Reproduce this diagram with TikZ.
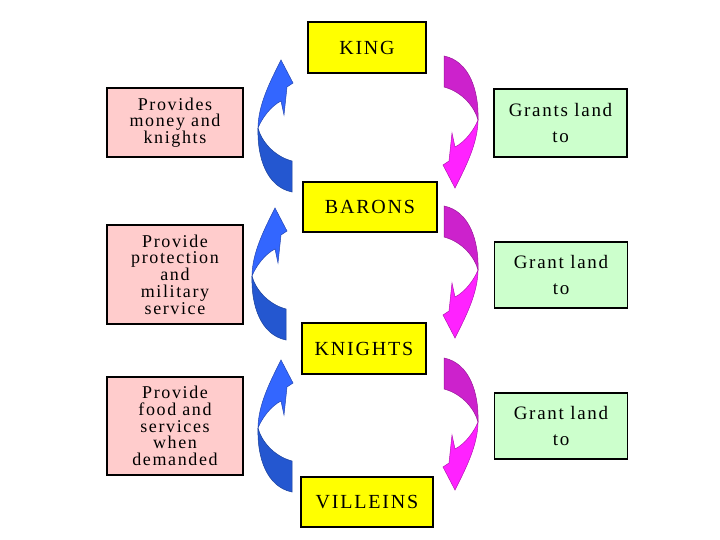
\documentclass[tikz,border=0pt]{standalone}
\usepackage{fontspec}
\setmainfont{Liberation Serif}
\newfontfamily\spaced[LetterSpace=9]{Liberation Serif}
\definecolor{kyellow}{HTML}{FFFF00}
\definecolor{kpink}{HTML}{FFCCCC}
\definecolor{kgreen}{HTML}{CCFFCC}
\definecolor{bhead}{HTML}{3366FF}
\definecolor{btail}{HTML}{2457D0}
\definecolor{mhead}{HTML}{FF22FF}
\definecolor{mtail}{HTML}{CC22CC}
\tikzset{
  x=1pt,y=-1pt,
  rank/.style={draw=black,line width=1.6pt,fill=kyellow,minimum width=#1,inner sep=0pt,
    font=\spaced\fontsize{20}{24}\selectfont},
  duty/.style={draw=black,line width=1.4pt,fill=kpink,minimum width=136pt,inner sep=0pt,align=center,
    font=\spaced\fontsize{18}{16.7}\selectfont},
  grant/.style={draw=black,line width=1.4pt,fill=kgreen,minimum width=133pt,inner sep=0pt,align=center,
    font=\spaced\fontsize{19}{26}\selectfont},
  pics/carr/.style 2 args={code={
    \filldraw[fill=#2,draw=#2!75!black,line width=0.5pt]
      (0,0) .. controls (-1,30) and (9,59) .. (34,64) -- (34,33)
      .. controls (15,28) and (3,12) .. cycle;
    \filldraw[fill=#1,draw=#1!70!black,line width=0.5pt]
      (0,0) .. controls (0,-24) and (14,-50) .. (23,-68) -- (35,-45) -- (29,-41)
      -- (26,-13) -- (23,-27) .. controls (13,-22) and (4,-10) .. cycle;
  }}
}
\begin{document}
\begin{tikzpicture}
\useasboundingbox (0,0) rectangle (720,540);
% arrows
\pic at (258,128) {carr={bhead}{btail}};
\pic at (252,276) {carr={bhead}{btail}};
\pic at (258,428) {carr={bhead}{btail}};
\pic[rotate=180] at (478,120) {carr={mhead}{mtail}};
\pic[rotate=180] at (478,270) {carr={mhead}{mtail}};
\pic[rotate=180] at (478,422) {carr={mhead}{mtail}};
% rank boxes
\node[rank=118pt,minimum height=51pt] (king) at (367,47.5) {KING};
\node[rank=134pt,minimum height=50pt] (barons) at (370,207) {BARONS};
\node[rank=124pt,minimum height=51pt] (knights) at (364,348.5) {KNIGHTS};
\node[rank=132pt,minimum height=50pt] (villeins) at (367,502) {VILLEINS};
% duties
\node[duty,minimum height=69pt] (d1) at (175,122.5) {Provides\\money and\\knights};
\node[duty,minimum height=99pt] (d2) at (175,274.5) {Provide\\protection\\and\\military\\service};
\node[duty,minimum height=98pt] (d3) at (175,426) {Provide\\food and\\services\\when\\demanded};
% grants
\node[grant,minimum height=68pt] (g1) at (560.5,123) {Grants land\\to};
\node[grant,minimum height=66pt] (g2) at (561,275) {Grant land\\to};
\node[grant,minimum height=66pt] (g3) at (561,426) {Grant land\\to};
\end{tikzpicture}
\end{document}
